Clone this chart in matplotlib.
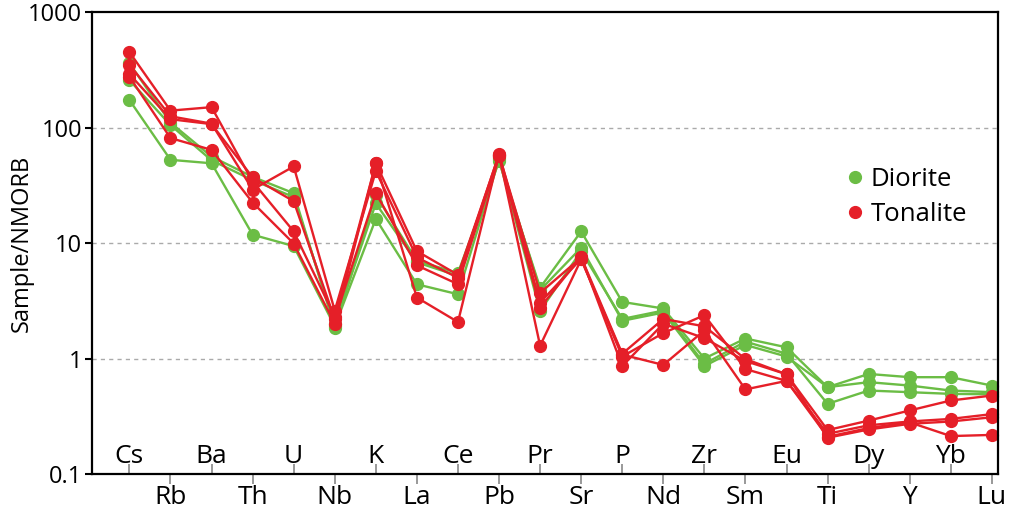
import numpy as np
import matplotlib
matplotlib.use('Agg')
import matplotlib.pyplot as plt
from matplotlib.lines import Line2D

plt.rcParams['font.family'] = ['Open Sans', 'DejaVu Sans']

elements = ['Cs', 'Rb', 'Ba', 'Th', 'U', 'Nb', 'K', 'La', 'Ce', 'Pb', 'Pr',
            'Sr', 'P', 'Nd', 'Zr', 'Sm', 'Eu', 'Ti', 'Dy', 'Y', 'Yb', 'Lu']

# Diorite samples (sample / NMORB)
diorite_1 = [360, 110, 56, 37.4, 27, 1.85, 26, 7.0, 5.5, 51, 4.1,
             12.6, 3.09, 2.71, 1.0, 1.49, 1.25, 0.565, 0.735, 0.689, 0.689, 0.583]
diorite_2 = [257, 105, 52, 35, 25, 2.0, 22, 6.8, 5.2, 55, 3.9,
             9.1, 2.12, 2.5, 0.86, 1.31, 1.04, 0.565, 0.624, 0.583, 0.528, 0.511]
diorite_3 = [173, 52.5, 49, 11.8, 9.4, 1.9, 16.2, 4.39, 3.6, 53, 2.58,
             8.5, 2.2, 2.6, 0.9, 1.4, 1.1, 0.405, 0.528, 0.511, 0.494, 0.49]

# Tonalite samples
tonalite_1 = [450, 140, 150, 34, 12.6, 2.3, 49, 8.5, 5.3, 58, 3.7,
              7.5, 1.1, 2.2, 1.9, 0.99, 0.73, 0.24, 0.29, 0.355, 0.433, 0.478]
tonalite_2 = [350, 125, 108, 29, 46, 2.6, 42, 7.5, 5.0, 59, 3.05,
              7.3, 1.04, 1.66, 2.37, 0.81, 0.64, 0.223, 0.264, 0.285, 0.30, 0.33]
tonalite_3 = [290, 118, 107, 37, 23, 2.2, 27, 6.4, 4.4, 57, 2.76,
              7.6, 0.86, 2.0, 1.5, 0.95, 0.73, 0.206, 0.243, 0.272, 0.285, 0.31]
tonalite_4 = [275, 81, 64, 22.4, 9.9, 2.0, 49, 3.37, 2.07, 58, 1.29,
              7.2, 1.08, 0.88, 1.75, 0.54, 0.64, 0.21, 0.25, 0.28, 0.213, 0.218]

diorite = [diorite_1, diorite_2, diorite_3]
tonalite = [tonalite_1, tonalite_2, tonalite_3, tonalite_4]

green = '#6bbd45'
red = '#e51f28'

fig = plt.figure(figsize=(10.16, 5.15), dpi=100)
ax = fig.add_axes([0.0906, 0.0796, 0.8917, 0.8971])

x = np.arange(len(elements))
for s in diorite:
    ax.plot(x, s, '-o', color=green, lw=1.7, ms=8.5, clip_on=False)
for s in tonalite:
    ax.plot(x, s, '-o', color=red, lw=1.7, ms=8.5, clip_on=False)

ax.set_yscale('log')
ax.set_ylim(0.1, 1000)
ax.set_xlim(-0.91, 21.15)
ax.set_yticks([0.1, 1, 10, 100, 1000])
ax.set_yticklabels(['0.1', '1', '10', '100', '1000'])
ax.yaxis.set_minor_locator(matplotlib.ticker.NullLocator())
for v in [1, 10, 100]:
    ax.axhline(v, color='#aaaaaa', lw=1, ls=(0, (3, 3)), zorder=0)

# odd elements: ticks out, labels below; even: ticks in, labels inside
ax.set_xticks(x[1::2], elements[1::2])
ax.set_xticks(x[0::2], elements[0::2], minor=True)
ax.tick_params(axis='x', which='major', direction='out', length=7, width=1.2,
               color='#888888', labelsize=19, pad=1)
ax.tick_params(axis='x', which='minor', direction='in', length=7, width=1.2,
               color='#888888', labelsize=19, pad=-21.5)
ax.tick_params(axis='y', which='major', direction='out', length=5, width=1.5,
               labelsize=17, pad=2)

for sp in ax.spines.values():
    sp.set_linewidth(1.6)

ax.set_ylabel('Sample/NMORB', fontsize=17)
ax.yaxis.set_label_coords(-0.064, 0.5)

handles = [Line2D([], [], ls='none', marker='o', color=green, ms=8.5),
           Line2D([], [], ls='none', marker='o', color=red, ms=8.5)]
ax.legend(handles, ['Diorite', 'Tonalite'], loc='upper left',
          bbox_to_anchor=(0.835, 0.665), frameon=False, fontsize=18.5,
          handlelength=0.5, handletextpad=0.35, labelspacing=0.4,
          borderpad=0, borderaxespad=0)

fig.savefig('out.png', dpi=100)
